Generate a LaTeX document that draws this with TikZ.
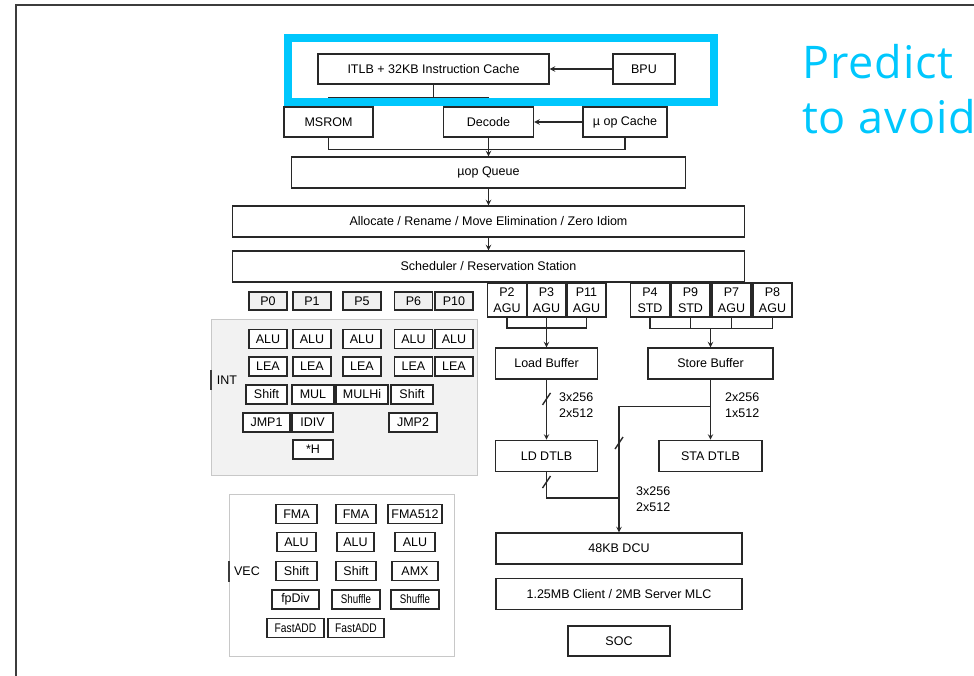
\documentclass[tikz,border=0pt]{standalone}
\usepackage{fontspec}
\setmainfont{Liberation Sans}
\newfontfamily\slidefont[LetterSpace=2]{Open Sans}
\usepackage{graphicx}
\usetikzlibrary{arrows, positioning, calc}
\definecolor{clearblue}{RGB}{0, 199, 253}
\definecolor{linegray}{RGB}{40, 40, 40}
\definecolor{framegray}{RGB}{60, 60, 60}
\definecolor{intbg}{RGB}{242, 242, 242}
\definecolor{panelline}{RGB}{200, 200, 200}

\begin{document}
\begin{tikzpicture}[
    x=1pt, y=-1pt,
    box/.style={rectangle, draw=linegray, line width=1.4pt, fill=white, inner sep=0pt, align=center, font=\fontsize{12.5}{15}\selectfont},
    wide/.style={box, minimum width=512pt, minimum height=31pt},
    unit/.style={box, line width=1.8pt, minimum height=19pt},
    port/.style={unit, fill=gray!12, minimum width=38pt, minimum height=18pt},
    mport/.style={box, line width=1.8pt, minimum width=39pt, minimum height=34pt, font=\fontsize{12.5}{16}\selectfont},
    panel/.style={rectangle, draw=panelline, line width=1pt, inner sep=0pt},
    tick/.style={draw=framegray, line width=2pt},
    buslabel/.style={inner sep=0pt, align=left, anchor=west, font=\fontsize{12.5}{16}\selectfont},
    wire/.style={draw=linegray, line width=1.4pt},
    arrow/.style={wire, ->, >=stealth},
    slidetext/.style={inner sep=0pt, anchor=base west, text=clearblue, font=\slidefont\fontsize{45}{52}\selectfont}
]
\useasboundingbox (0,0) rectangle (974,675);

% Slide frame
\draw[draw=framegray, line width=2pt] (16,690) -- (16,5) -- (990,5);

% Front end
\node[box, minimum width=231pt, minimum height=30pt] (itlb) at (433.5,69) {ITLB + 32KB Instruction Cache};
\node[box, minimum width=62pt, minimum height=30pt] (bpu) at (644,69) {BPU};
\node[box, minimum width=89pt, minimum height=30pt] (msrom) at (328.5,122) {MSROM};
\node[box, minimum width=90pt, minimum height=30pt] (decode) at (488.5,122) {Decode};
\node[box, minimum width=84pt, minimum height=30pt] (uopcache) at (625,122) {µ op Cache};

\coordinate (ifork) at ([yshift=-13pt]itlb.south);
\draw[arrow] (bpu) -- (itlb);
\draw[wire] (itlb.south) -- (ifork);
\draw[wire] (msrom.north) |- (ifork) -| (decode.north);
\draw[arrow] (uopcache) -- (decode);

% Queue / rename / scheduler
\node[box, minimum width=394pt, minimum height=31pt] (uopq) at (488.5,172.5) {µop Queue};
\node[wide] (alloc) at (488.5,221.5) {Allocate / Rename / Move Elimination / Zero Idiom};
\node[wide] (sched) at (488.5,266.5) {Scheduler / Reservation Station};

\coordinate (dmerge) at ([yshift=-12pt]uopcache.south);
\draw[wire] (msrom.south) |- (dmerge) -- (uopcache.south);
\draw[arrow] (decode) -- (uopq);
\draw[arrow] (uopq) -- (alloc);
\draw[arrow] (alloc) -- (sched);

% Highlight
\draw[draw=clearblue, line width=8pt] (288,37.5) rectangle (714,102);
\node[slidetext] (predict) at (802,78) {Predict};
\node[slidetext] (avoid) at (802,133) {to avoid};

% INT ports
\node[port] (p0) at (268,301) {P0};
\node[port] (p1) at (312,301) {P1};
\node[port] (p5) at (362,301) {P5};
\node[port] (p6) at (413.5,301) {P6};
\node[port] (p10) at (454,301) {P10};

% INT
\node[panel, fill=intbg, minimum width=266pt, minimum height=156pt] (intpanel) at (344,397) {};
\draw[tick] (intpanel.west |- 0,370) -- (intpanel.west |- 0,390);
\node[inner sep=0pt, font=\fontsize{12.5}{15}\selectfont] (intlabel) at (227,380) {INT};

\node[unit, minimum width=38pt] (alu0) at (268,339) {ALU};
\node[unit, minimum width=38pt] (alu1) at (312,339) {ALU};
\node[unit, minimum width=38pt] (alu5) at (362,339) {ALU};
\node[unit, minimum width=38pt] (alu6) at (413.5,339) {ALU};
\node[unit, minimum width=38pt] (alu10) at (454,339) {ALU};
\node[unit, minimum width=38pt] (lea0) at (268,366.5) {LEA};
\node[unit, minimum width=38pt] (lea1) at (312,366.5) {LEA};
\node[unit, minimum width=38pt] (lea5) at (362,366.5) {LEA};
\node[unit, minimum width=38pt] (lea6) at (413.5,366.5) {LEA};
\node[unit, minimum width=38pt] (lea10) at (454,366.5) {LEA};
\node[unit, minimum width=41pt] (shift0) at (266.5,394.5) {Shift};
\node[unit, minimum width=42pt] (mul) at (313,394.5) {MUL};
\node[unit, minimum width=52pt] (mulhi) at (362,394.5) {MULHi};
\node[unit, minimum width=42pt] (shift6) at (412,394.5) {Shift};
\node[unit, minimum width=47pt] (jmp1) at (266.5,422.5) {JMP1};
\node[unit, minimum width=41pt] (idiv) at (312.5,422.5) {IDIV};
\node[unit, minimum width=48pt] (jmp2) at (413,422.5) {JMP2};
\node[unit, minimum width=40pt] (starh) at (313,449.5) {*H};

% VEC
\node[panel, fill=white, minimum width=225pt, minimum height=162pt] (vecpanel) at (341.5,575) {};
\draw[tick] (vecpanel.west |- 0,561) -- (vecpanel.west |- 0,582);
\node[inner sep=0pt, font=\fontsize{12.5}{15}\selectfont] (veclabel) at (247,571) {VEC};

\node[unit, minimum width=41pt] (fma0) at (296.5,514) {FMA};
\node[unit, minimum width=40pt] (fma1) at (356,514) {FMA};
\node[unit, minimum width=54pt] (fma512) at (415,514) {FMA512};
\node[unit, minimum width=39pt] (valu0) at (296.5,542) {ALU};
\node[unit, minimum width=37pt] (valu1) at (355.5,542) {ALU};
\node[unit, minimum width=40pt] (valu5) at (415,542) {ALU};
\node[unit, minimum width=41pt] (vshift0) at (296.5,571) {Shift};
\node[unit, minimum width=40pt] (vshift1) at (356,571) {Shift};
\node[unit, minimum width=46pt] (amx) at (415,571) {AMX};
\node[unit, minimum width=47pt] (fpdiv) at (295.5,599.5) {fpDiv};
\node[unit, minimum width=48pt] (shuf1) at (356,599.5) {\scalebox{0.78}[1]{Shuffle}};
\node[unit, minimum width=48pt] (shuf5) at (415,599.5) {\scalebox{0.78}[1]{Shuffle}};
\node[unit, minimum width=57pt] (fadd0) at (295.5,628) {\scalebox{0.82}[1]{FastADD}};
\node[unit, minimum width=56pt] (fadd1) at (356,628) {\scalebox{0.82}[1]{FastADD}};

% Memory ports
\node[mport] (p2) at (507,300) {P2\\AGU};
\node[mport] (p3) at (546.5,300) {P3\\AGU};
\node[mport] (p11) at (586.5,300) {P11\\AGU};
\node[mport] (p4) at (650,300) {P4\\STD};
\node[mport] (p9) at (690.5,300) {P9\\STD};
\node[mport] (p7) at (731.5,300) {P7\\AGU};
\node[mport] (p8) at (772.5,300) {P8\\AGU};

\node[box, minimum width=102pt, minimum height=31pt] (ldbuf) at (546.5,363.5) {Load Buffer};
\node[box, minimum width=125pt, minimum height=31pt] (stbuf) at (710.5,363.5) {Store Buffer};
\node[box, minimum width=102pt, minimum height=31pt, below=60pt of ldbuf] (lddtlb) {LD DTLB};
\node[box, minimum width=103pt, minimum height=31pt, below=60pt of stbuf] (stadtlb) {STA DTLB};

\coordinate (ldjoin) at ([yshift=-10pt]p3.south);
\draw[wire] (p2.south) |- (ldjoin) -| (p11.south);
\draw[arrow] (p3.south) -- (ldbuf.north);

\coordinate (stjoin) at ($(stbuf.north)+(0,-19)$);
\draw[wire] (p4.south) |- (stjoin) -| (p8.south);
\draw[wire] (p9.south) -- (p9.south |- stjoin);
\draw[wire] (p7.south) -- (p7.south |- stjoin);
\draw[arrow] (stjoin) -- (stbuf.north);

% Data cache
\node[box, minimum width=246pt, minimum height=31pt] (dcu) at (619,548.5) {48KB DCU};
\node[box, minimum width=246pt, minimum height=31pt, below=13pt of dcu] (mlc) {1.25MB Client / 2MB Server MLC};
\node[box, minimum width=102pt, minimum height=30pt, below=15pt of mlc] (soc) {SOC};

\draw[arrow] (ldbuf) -- coordinate[pos=0.32] (ldslash) (lddtlb);
\draw[wire] ($(ldslash)+(-4,6)$) -- ($(ldslash)+(4,-6)$);
\node[buslabel] (ldwidth) at (559,405) {3x256\\2x512};

\coordinate (stfork) at ($(stbuf.south)+(0,27)$);
\draw[arrow] (stbuf) -- (stadtlb);
\draw[arrow] (stfork) -| (dcu.north);
\coordinate (stslash) at (619,443);
\draw[wire] ($(stslash)+(-4,6)$) -- ($(stslash)+(4,-6)$);
\node[buslabel] (stwidth) at (725,405) {2x256\\1x512};

\coordinate (dcujoin) at (619,498);
\draw[wire] (lddtlb.south) |- (dcujoin);
\coordinate (dtslash) at (546.5,482);
\draw[wire] ($(dtslash)+(-4,6)$) -- ($(dtslash)+(4,-6)$);
\node[buslabel] (dcuwidth) at (636,499) {3x256\\2x512};

\end{tikzpicture}
\end{document}
